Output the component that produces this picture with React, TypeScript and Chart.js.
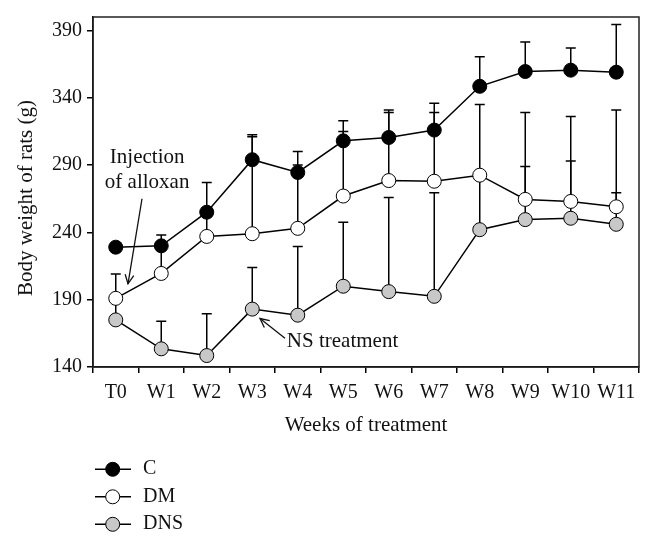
import React, { useEffect, useRef } from "react";
import { Chart, registerables } from "chart.js";

Chart.register(...registerables);

const weeks = ["T0", "W1", "W2", "W3", "W4", "W5", "W6", "W7", "W8", "W9", "W10", "W11"];
const cMean = [229, 230, 255, 294, 284.5, 308, 310.5, 316, 348.5, 359.5, 360.5, 359];
const cErr = [0, 8, 22, 18.5, 15.5, 15, 20.5, 20, 22, 22, 16.5, 35.5];
const dmMean = [191, 209.5, 237, 239, 243, 267, 278.5, 278, 282.5, 264.5, 263, 259];
const dmErr = [18, 22, 20, 72, 47, 48, 50.5, 51, 52.5, 64.5, 63, 72];
const dnsMean = [175, 153.5, 148.5, 183, 178.5, 200, 196, 192.5, 242, 249.5, 250.5, 246];
const dnsErr = [16, 20.5, 31, 31, 51, 47.5, 70, 77, 40, 39.5, 42.5, 23.5];
const yTicks = [140, 190, 240, 290, 340, 390];
const seriesNames = ["C", "DM", "DNS"];
const seriesFill = ["#000000", "#ffffff", "#c8c8c8"];

// annotation anchors in data units (x = category index, y = body weight)
const injectionText = { lines: ["Injection", "of alloxan"], x: 0.69, y: [291.5, 273.3] };
const injectionArrow = { from: [0.577, 265], to: [0.269, 201.8] };
const nsText = { text: "NS treatment", x: 3.76, y: 155 };
const nsArrow = { from: [3.72, 161.3], to: [3.17, 176] };

const SERIF = '"Liberation Serif", "Times New Roman", serif';

function drawArrow(ctx: CanvasRenderingContext2D, x1: number, y1: number, x2: number, y2: number) {
  ctx.beginPath();
  ctx.moveTo(x1, y1);
  ctx.lineTo(x2, y2);
  ctx.stroke();
  const ang = Math.atan2(y2 - y1, x2 - x1);
  const len = 10;
  const spread = 0.45;
  ctx.beginPath();
  ctx.moveTo(x2 - len * Math.cos(ang - spread), y2 - len * Math.sin(ang - spread));
  ctx.lineTo(x2, y2);
  ctx.lineTo(x2 - len * Math.cos(ang + spread), y2 - len * Math.sin(ang + spread));
  ctx.stroke();
}

const errorBarPlugin = {
  id: "errorBars",
  beforeDatasetsDraw(chart: any) {
    const ctx = chart.ctx as CanvasRenderingContext2D;
    const xs = chart.scales.x;
    const ys = chart.scales.y;
    const errs = [cErr, dmErr, dnsErr];
    const means = [cMean, dmMean, dnsMean];
    ctx.save();
    ctx.strokeStyle = "#000";
    ctx.lineWidth = 1.5;
    for (let s = 0; s < 3; s++) {
      for (let i = 0; i < weeks.length; i++) {
        const e = errs[s][i];
        if (!e) continue;
        const x = xs.getPixelForValue(i);
        const y0 = ys.getPixelForValue(means[s][i]);
        const y1 = ys.getPixelForValue(means[s][i] + e);
        ctx.beginPath();
        ctx.moveTo(x, y0);
        ctx.lineTo(x, y1);
        ctx.moveTo(x - 5, y1);
        ctx.lineTo(x + 5, y1);
        ctx.stroke();
      }
    }
    ctx.restore();
  },
  afterDraw(chart: any) {
    const ctx = chart.ctx as CanvasRenderingContext2D;
    const xs = chart.scales.x;
    const ys = chart.scales.y;
    const ca = chart.chartArea;
    ctx.save();
    // frame
    ctx.strokeStyle = "#222";
    ctx.lineWidth = 1.5;
    ctx.strokeRect(ca.left, ca.top, ca.right - ca.left, ca.bottom - ca.top);

    ctx.fillStyle = "#111";
    ctx.strokeStyle = "#111";
    ctx.lineWidth = 1.3;
    // axis titles
    ctx.font = `21px ${SERIF}`;
    ctx.textAlign = "center";
    ctx.textBaseline = "alphabetic";
    ctx.fillText("Weeks of treatment", (ca.left + ca.right) / 2, 431);
    ctx.save();
    ctx.translate(32, (ca.top + ca.bottom) / 2 + 6);
    ctx.rotate(-Math.PI / 2);
    ctx.fillText("Body weight of rats (g)", 0, 0);
    ctx.restore();

    // annotations
    ctx.font = `21px ${SERIF}`;
    ctx.textAlign = "center";
    injectionText.lines.forEach((t, k) => {
      ctx.fillText(t, xs.getPixelForValue(injectionText.x), ys.getPixelForValue(injectionText.y[k]));
    });
    drawArrow(
      ctx,
      xs.getPixelForValue(injectionArrow.from[0]),
      ys.getPixelForValue(injectionArrow.from[1]),
      xs.getPixelForValue(injectionArrow.to[0]),
      ys.getPixelForValue(injectionArrow.to[1])
    );
    ctx.textAlign = "left";
    ctx.fillText(nsText.text, xs.getPixelForValue(nsText.x), ys.getPixelForValue(nsText.y));
    drawArrow(
      ctx,
      xs.getPixelForValue(nsArrow.from[0]),
      ys.getPixelForValue(nsArrow.from[1]),
      xs.getPixelForValue(nsArrow.to[0]),
      ys.getPixelForValue(nsArrow.to[1])
    );

    // legend
    ctx.font = `20px ${SERIF}`;
    ctx.textAlign = "left";
    for (let k = 0; k < 3; k++) {
      const base = 474 + 27.5 * k;
      const my = base - 4.7;
      ctx.strokeStyle = "#000";
      ctx.lineWidth = 1.5;
      ctx.beginPath();
      ctx.moveTo(95, my);
      ctx.lineTo(131, my);
      ctx.stroke();
      ctx.beginPath();
      ctx.arc(112.7, my, 7, 0, Math.PI * 2);
      ctx.fillStyle = seriesFill[k];
      ctx.fill();
      ctx.lineWidth = 1;
      ctx.stroke();
      ctx.fillStyle = "#111";
      ctx.fillText(seriesNames[k], 143, base);
    }
    ctx.restore();
  },
};

export default function App() {
  const ref = useRef<HTMLCanvasElement | null>(null);
  useEffect(() => {
    if (!ref.current) return;
    const means = [cMean, dmMean, dnsMean];
    const chart = new Chart(ref.current, {
      type: "line",
      data: {
        labels: weeks,
        datasets: seriesNames.map((n, k) => ({
          label: n,
          data: means[k],
          borderColor: "#000",
          borderWidth: 1.5,
          pointRadius: 7,
          pointHoverRadius: 7,
          pointBorderWidth: 1,
          pointBorderColor: "#000",
          pointBackgroundColor: seriesFill[k],
          backgroundColor: seriesFill[k],
          tension: 0,
          fill: false,
          order: 3 - k,
        })),
      },
      options: {
        animation: false,
        responsive: false,
        devicePixelRatio: 1,
        layout: { padding: { top: 14, right: 15, left: 0, bottom: 0 } },
        plugins: { legend: { display: false }, tooltip: { enabled: false } },
        scales: {
          x: {
            type: "category",
            offset: true,
            grid: { offset: true, drawOnChartArea: false, drawTicks: true, tickLength: 6, color: "#000", lineWidth: 1.5 },
            border: { display: true, color: "#000", width: 1.5 },
            ticks: { color: "#111", font: { family: SERIF, size: 20 }, padding: 8, maxRotation: 0, autoSkip: false },
            afterFit: (s: any) => {
              s.height = 178;
            },
          },
          y: {
            type: "linear",
            min: 140,
            max: 400,
            grid: { drawOnChartArea: false, drawTicks: true, tickLength: 6, color: "#000", lineWidth: 1.5 },
            border: { display: true, color: "#000", width: 1.5 },
            ticks: { color: "#111", font: { family: SERIF, size: 20 }, padding: 5 },
            afterBuildTicks: (s: any) => {
              s.ticks = yTicks.map((v) => ({ value: v }));
            },
            afterFit: (s: any) => {
              s.width = 93;
            },
          },
        },
      },
      plugins: [errorBarPlugin],
    } as any);
    return () => chart.destroy();
  }, []);
  return (
    <div style={{ position: "fixed", left: 0, top: 0, width: 654, height: 545, background: "#fff" }}>
      <canvas ref={ref} width={654} height={545} style={{ width: 654, height: 545, display: "block" }} />
    </div>
  );
}
